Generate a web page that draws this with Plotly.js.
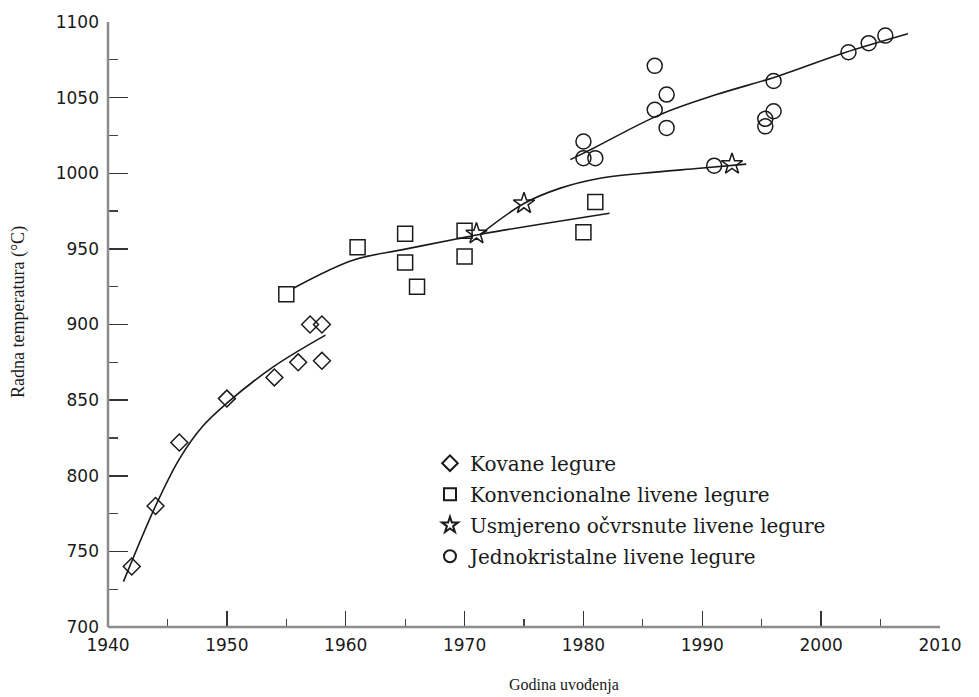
<!DOCTYPE html>
<html>
<head>
<meta charset="utf-8">
<script src="https://cdn.plot.ly/plotly-3.0.1.min.js"></script>
<style>html,body{margin:0;padding:0;background:#fff;}#chart{width:979px;height:697px;}</style>
</head>
<body>
<div id="chart"></div>
<script>
// Kovane legure (diamonds)
const kovaneYears = [1942, 1944, 1946, 1950, 1954, 1956, 1957, 1958, 1958];
const kovaneTemps = [740, 780, 822, 851, 865, 875, 900, 900, 876];
const kovaneFitYears = [1941.3, 1944.0, 1946.0, 1948.0, 1950.0, 1953.9, 1958.3];
const kovaneFitTemps = [730, 780, 811, 833, 848, 872, 893];

// Konvencionalne livene legure (squares)
const konvYears = [1955, 1961, 1965, 1965, 1966, 1970, 1970, 1980, 1981];
const konvTemps = [920, 951, 960, 941, 925, 962, 945, 961, 981];
const konvFitYears = [1955.6, 1960.6, 1964.8, 1969.3, 1971.6, 1976.1, 1982.2];
const konvFitTemps = [924, 942.5, 949.5, 956.5, 960, 966, 973.5];

// Usmjereno očvrsnute livene legure (stars)
const usmjYears = [1971, 1975, 1992.5];
const usmjTemps = [960, 980, 1006];
const usmjFitYears = [1971.3, 1975.0, 1978.0, 1981.4, 1985.0, 1989.8, 1993.7];
const usmjFitTemps = [959.5, 980, 990, 996.7, 1000, 1003.3, 1006];

// Jednokristalne livene legure (circles)
const jednoYears = [1980, 1980, 1981, 1986, 1987, 1986, 1987, 1991, 1995.3, 1995.3, 1996, 1996, 2002.3, 2004, 2005.4];
const jednoTemps = [1021, 1010, 1010, 1071, 1052, 1042, 1030, 1005, 1036, 1031, 1061, 1041, 1080, 1086, 1091];
const jednoFitYears = [1978.9, 1980.8, 1986.4, 1991.2, 1996.3, 2001.9, 2007.3];
const jednoFitTemps = [1009, 1016.4, 1038.6, 1052, 1064, 1079.5, 1092.2];

const seriesNames = ['Kovane legure', 'Konvencionalne livene legure', 'Usmjereno očvrsnute livene legure', 'Jednokristalne livene legure'];

const lineStyle = {color: '#1a1a1a', width: 1.6, shape: 'spline', smoothing: 1};
const mk = (sym, size) => ({symbol: sym, size: size, color: '#1a1a1a', line: {color: '#1a1a1a', width: 1.5}});

const traces = [
  {x: kovaneFitYears, y: kovaneFitTemps, mode: 'lines', line: lineStyle, showlegend: false, hoverinfo: 'skip'},
  {x: konvFitYears, y: konvFitTemps, mode: 'lines', line: lineStyle, showlegend: false, hoverinfo: 'skip'},
  {x: usmjFitYears, y: usmjFitTemps, mode: 'lines', line: lineStyle, showlegend: false, hoverinfo: 'skip'},
  {x: jednoFitYears, y: jednoFitTemps, mode: 'lines', line: lineStyle, showlegend: false, hoverinfo: 'skip'},
  {x: kovaneYears, y: kovaneTemps, mode: 'markers', name: seriesNames[0], legendgroup: 'a', marker: mk('diamond-open', 13)},
  {x: konvYears, y: konvTemps, mode: 'markers', name: seriesNames[1], legendgroup: 'b', marker: mk('square-open', 15)},
  {x: usmjYears, y: usmjTemps, mode: 'markers', name: seriesNames[2], legendgroup: 'c', marker: mk('star-open', 16)},
  {x: jednoYears, y: jednoTemps, mode: 'markers', name: seriesNames[3], legendgroup: 'd', marker: mk('circle-open', 15)}
];

const tickFont = {family: 'DejaVu Sans, Arial, sans-serif', size: 17, color: '#1a1a1a'};
const axisLine = {color: '#8c8c8c', width: 2.5};

const layout = {
  width: 979, height: 697,
  margin: {l: 108, r: 39, t: 22, b: 70},
  paper_bgcolor: '#fff', plot_bgcolor: '#fff',
  showlegend: true,
  legend: {
    x: 0.387, y: 0.303, xanchor: 'left', yanchor: 'top',
    bgcolor: 'rgba(0,0,0,0)', borderwidth: 0,
    font: {family: 'DejaVu Serif, Liberation Serif, serif', size: 20, color: '#1a1a1a'},
    itemsizing: 'constant', traceorder: 'grouped', tracegroupgap: 2
  },
  xaxis: {
    range: [1940, 2010], dtick: 10, tick0: 1940,
    showgrid: false, zeroline: false, showline: false,
    ticks: 'inside', ticklen: 16, tickwidth: 1.5, tickcolor: '#333',
    minor: {dtick: 5, ticks: 'inside', ticklen: 8, tickwidth: 1.2, tickcolor: '#444', showgrid: false},
    tickfont: tickFont, ticklabelstandoff: 6
  },
  yaxis: {
    range: [700, 1100], dtick: 50, tick0: 700,
    showgrid: false, zeroline: false, showline: false,
    ticks: 'inside', ticklen: 20, tickwidth: 1.5, tickcolor: '#333',
    minor: {dtick: 25, ticks: 'inside', ticklen: 10, tickwidth: 1.2, tickcolor: '#444', showgrid: false},
    tickfont: tickFont, ticklabelstandoff: 8
  },
  shapes: [
    {type: 'line', xref: 'paper', yref: 'paper', x0: 0, x1: 1, y0: 0, y1: 0, line: axisLine, layer: 'above'},
    {type: 'line', xref: 'paper', yref: 'paper', x0: 0, x1: 0, y0: 0, y1: 1, line: axisLine, layer: 'above'}
  ],
  annotations: [
    {text: 'Godina uvođenja', xref: 'paper', yref: 'paper', x: (564 - 108) / 832, y: -(685 - 627) / 605,
     xanchor: 'center', yanchor: 'middle', showarrow: false,
     font: {family: 'Liberation Serif, Times New Roman, serif', size: 16, color: '#1a1a1a'}},
    {text: 'Radna temperatura (°C)', xref: 'paper', yref: 'paper', x: -(108 - 18) / 832, y: 1 - (312 - 22) / 605,
     xanchor: 'center', yanchor: 'middle', showarrow: false, textangle: -90,
     font: {family: 'Liberation Serif, Times New Roman, serif', size: 18, color: '#1a1a1a'}}
  ]
};

Plotly.newPlot('chart', traces, layout, {displayModeBar: false, staticPlot: true});
</script>
</body>
</html>
